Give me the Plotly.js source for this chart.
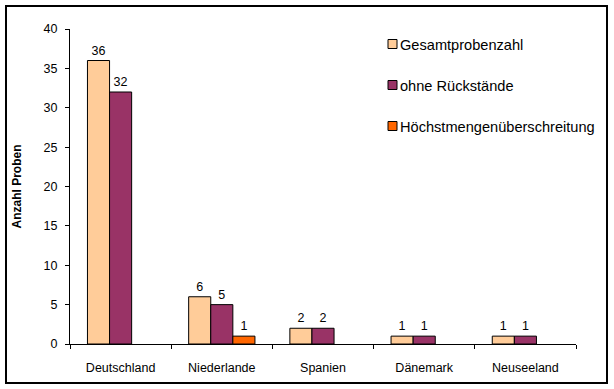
<!DOCTYPE html>
<html>
<head>
<meta charset="utf-8">
<script src="https://cdn.plot.ly/plotly-3.0.1.min.js"></script>
<style>
  html, body { margin: 0; padding: 0; background: #fff; }
  #wrap { position: relative; width: 614px; height: 389px; }
  #chart { width: 614px; height: 389px; }
  #frame { position: absolute; left: 5px; top: 5px; width: 599px; height: 375px; border: 2px solid #000; pointer-events: none; }
</style>
</head>
<body>
<div id="wrap">
  <div id="chart"></div>
  <div id="frame"></div>
</div>
<script>
// ---- data ----
const categories = ["Deutschland", "Niederlande", "Spanien", "Dänemark", "Neuseeland"];
const seriesNames = ["Gesamtprobenzahl", "ohne Rückstände", "Höchstmengenüberschreitung"];
const gesamtprobenzahl = [36, 6, 2, 1, 1];
const ohneRueckstaende = [32, 5, 2, 1, 1];
const hoechstmengenueberschreitung = [null, 1, null, null, null];
const yAxisTitle = "Anzahl Proben";

// ---- styles ----
const colors = ["#FFCC99", "#993366", "#FF6600"];
const font = "Liberation Sans, Arial, sans-serif";
const seriesValues = [gesamtprobenzahl, ohneRueckstaende, hoechstmengenueberschreitung];

// plot area pixel geometry
const W = 614, H = 389;
const L = 70, R = 576, T = 29, B = 344;
const px = x => (x - L) / (R - L);
const py = y => (B - y) / (B - T);

const traces = seriesValues.map((vals, i) => ({
  type: "bar",
  name: seriesNames[i],
  x: categories,
  y: vals,
  marker: { color: colors[i], line: { color: "#000", width: 1 } },
  text: vals.map(v => v == null ? "" : String(v)),
  textposition: "outside",
  textfont: { family: font, size: 12.5, color: "#000" },
  cliponaxis: false,
  hoverinfo: "none",
  showlegend: false
}));

// manual legend built from series names & colours
const legendY = [44, 85, 126];
const shapes = [];
const annotations = [];
seriesNames.forEach((n, i) => {
  shapes.push({
    type: "rect", xref: "paper", yref: "paper",
    x0: px(388), x1: px(397), y0: py(legendY[i] - 4.5), y1: py(legendY[i] + 4.5),
    fillcolor: colors[i], line: { color: "#000", width: 1 }
  });
  annotations.push({
    xref: "paper", yref: "paper", x: px(397.5), y: py(legendY[i] + 1),
    xanchor: "left", yanchor: "middle", showarrow: false,
    text: n, font: { family: font, size: 14.6, color: "#000" }
  });
});
annotations.push({
  xref: "paper", yref: "paper", x: px(16), y: 0.5,
  xanchor: "center", yanchor: "middle", showarrow: false, textangle: -90,
  text: "<b>" + yAxisTitle + "</b>", font: { family: font, size: 12, color: "#000" }
});

const layout = {
  width: W, height: H,
  margin: { l: L, r: W - R, t: T, b: H - B, pad: 0 },
  paper_bgcolor: "#fff", plot_bgcolor: "#fff",
  barmode: "group", bargap: 0.345, bargroupgap: 0,
  showlegend: false,
  font: { family: font, size: 12.5, color: "#000" },
  xaxis: {
    type: "category", range: [-0.5, 4.5], fixedrange: true,
    showline: true, linecolor: "#000", linewidth: 1,
    ticks: "outside", tickson: "boundaries", ticklen: 4, tickcolor: "#000", tickwidth: 1,
    ticklabelstandoff: 12,
    showgrid: false, zeroline: false,
    tickfont: { family: font, size: 12.5, color: "#000" }
  },
  yaxis: {
    range: [0, 40], dtick: 5, tick0: 0, fixedrange: true,
    showline: true, linecolor: "#000", linewidth: 1,
    ticks: "outside", ticklen: 4, tickcolor: "#000", tickwidth: 1,
    ticklabelstandoff: 5,
    showgrid: false, zeroline: false,
    tickfont: { family: font, size: 12.5, color: "#000" }
  },
  shapes: shapes,
  annotations: annotations
};

Plotly.newPlot("chart", traces, layout, { displayModeBar: false, staticPlot: true });
</script>
</body>
</html>
